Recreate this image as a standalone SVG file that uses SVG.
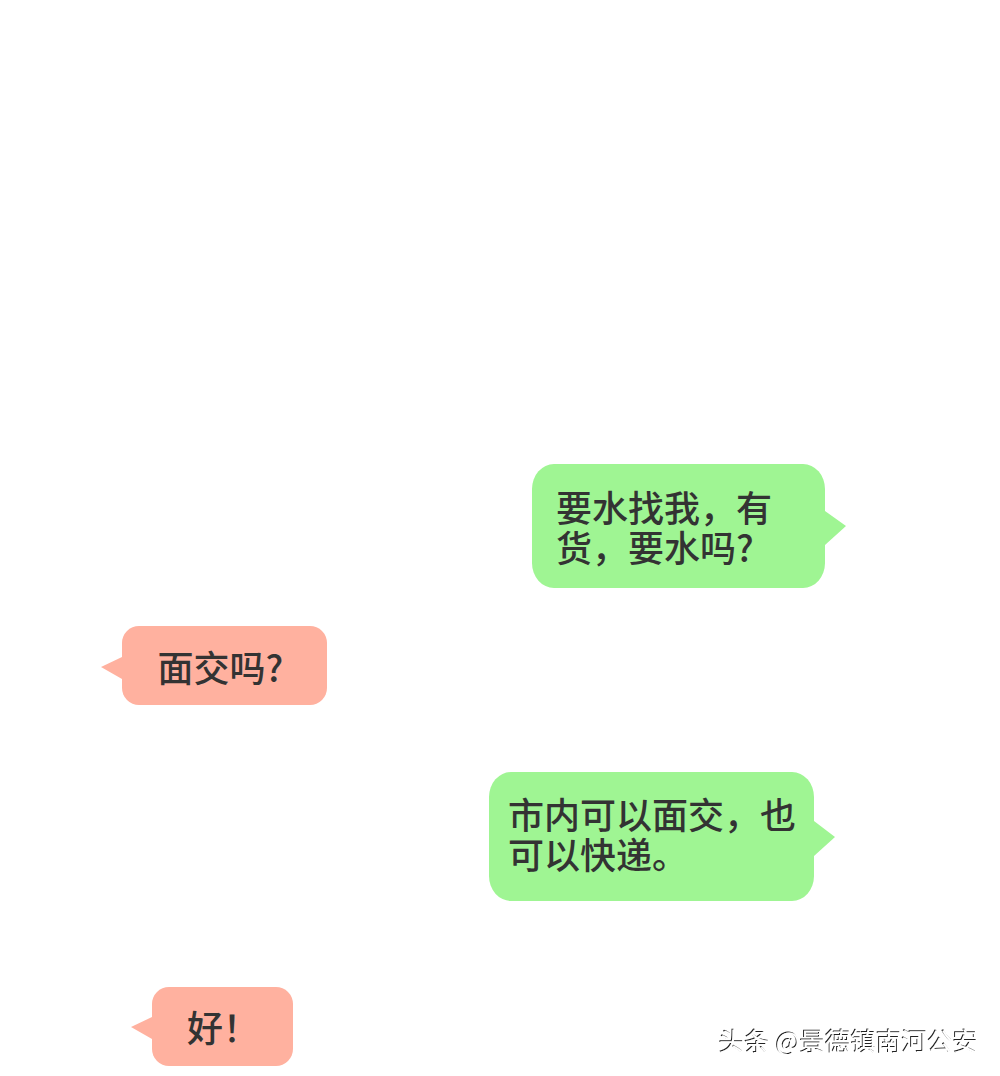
<svg xmlns="http://www.w3.org/2000/svg" width="1000" height="1076" viewBox="0 0 1000 1076">
<style>
.g{fill:#9ff593}
.r{fill:#ffb19f}
.t{font-family:"Noto Sans CJK SC","Liberation Sans",sans-serif;font-size:36px;font-weight:500;fill:#333}
.w{font-family:"Noto Sans CJK SC","Liberation Sans",sans-serif;font-size:25.5px;fill:#222}
</style>
<defs>
<filter id="emboss" x="-5%" y="-20%" width="110%" height="140%">
<feOffset in="SourceAlpha" dx="1" dy="1" result="o"/>
<feFlood flood-color="#fff"/>
<feComposite in2="o" operator="in" result="w"/>
<feMerge><feMergeNode in="SourceGraphic"/><feMergeNode in="w"/></feMerge>
</filter>
</defs>
<rect width="1000" height="1076" fill="#fff"/>
<g id="bubble-1">
<rect class="g" x="532" y="464" width="293" height="124" rx="22" ry="25"/>
<path class="g" d="M825 511L846 526L825 545Z"/>
<text class="t" x="556" y="522">要水找我，有<tspan x="556" dy="40">货，要水吗?</tspan></text>
</g>
<g id="bubble-2">
<rect class="r" x="122" y="626" width="205" height="79" rx="17"/>
<path class="r" d="M122 657L101 667L122 679Z"/>
<text class="t" x="157.500" y="682">面交吗?</text>
</g>
<g id="bubble-3">
<rect class="g" x="489" y="772" width="325" height="129" rx="22" ry="25"/>
<path class="g" d="M814 821L835 837L814 856Z"/>
<text class="t" x="508" y="829">市内可以面交，也<tspan x="508" dy="40">可以快递。</tspan></text>
</g>
<g id="bubble-4">
<rect class="r" x="152" y="987" width="141" height="79" rx="17"/>
<path class="r" d="M152 1017L131 1027L152 1039Z"/>
<text class="t" x="187" y="1042">好！</text>
</g>
<g id="watermark">
<text class="w" x="718" y="1050" filter="url(#emboss)">头条 @景德镇南河公安</text>
</g>
<g id="connectors"/>
</svg>
